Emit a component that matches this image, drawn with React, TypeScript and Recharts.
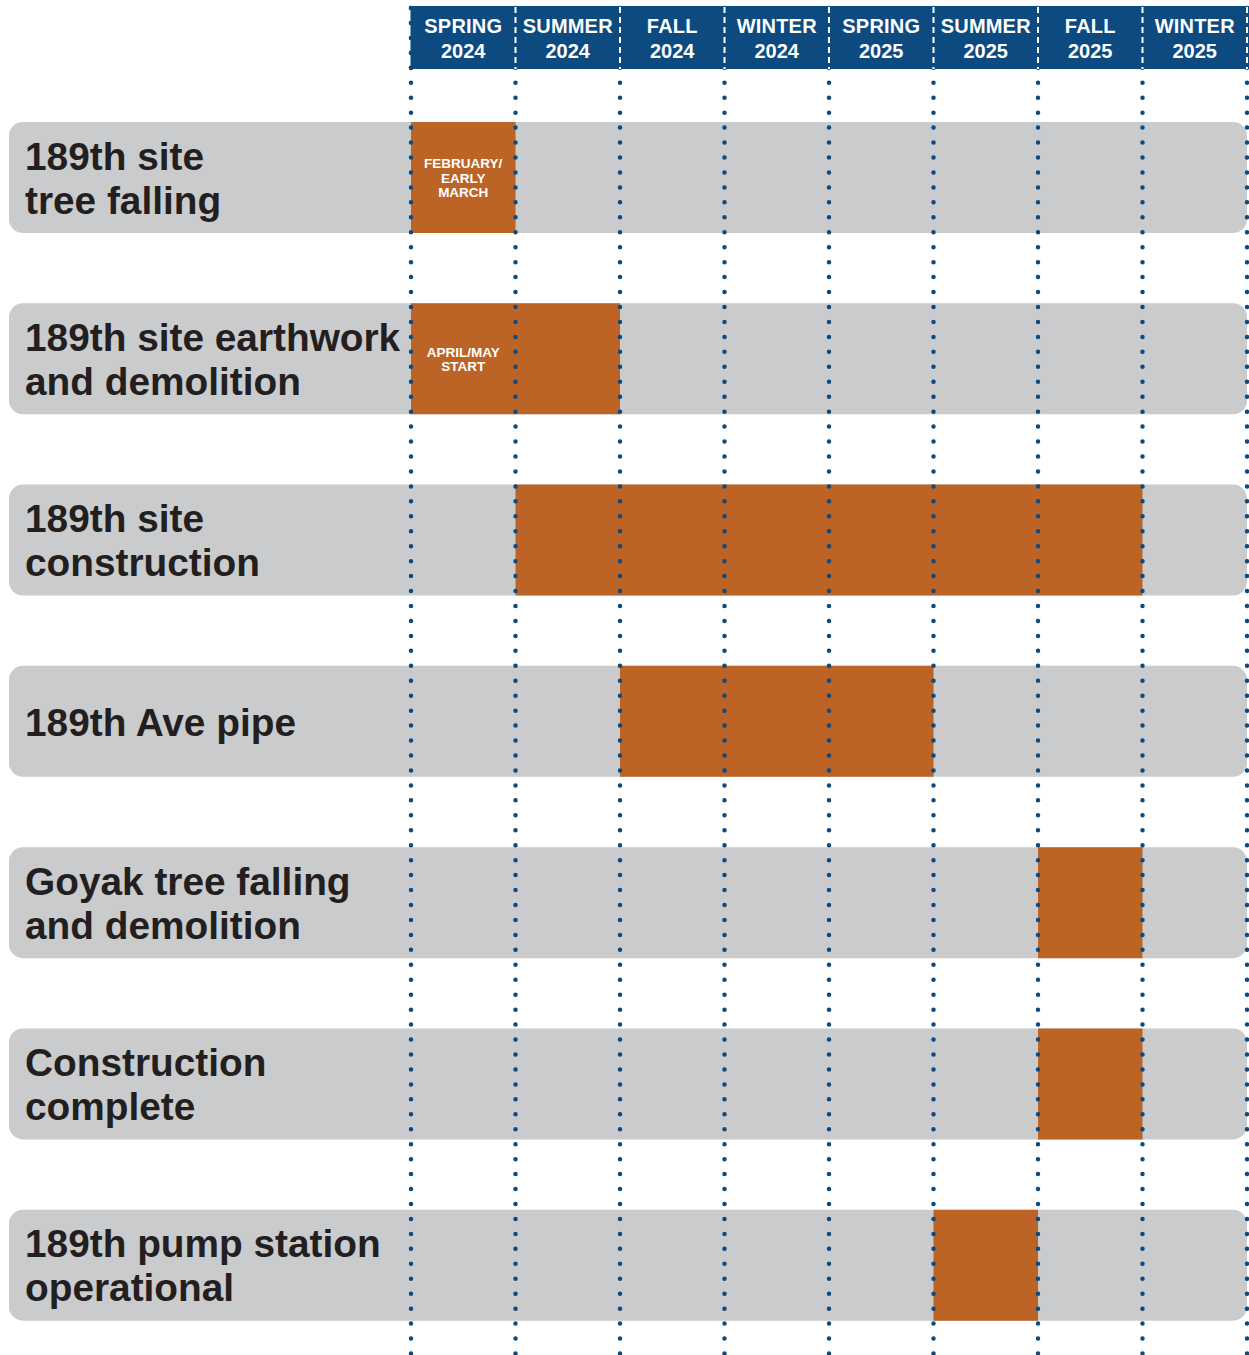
import React from 'react';
import { BarChart, Bar, XAxis, YAxis, ReferenceLine, LabelList } from 'recharts';

// ---------- data ----------
const seasons = ['SPRING', 'SUMMER', 'FALL', 'WINTER', 'SPRING', 'SUMMER', 'FALL', 'WINTER'];
const years = ['2024', '2024', '2024', '2024', '2025', '2025', '2025', '2025'];
const seasonTicks = [0.5, 1.5, 2.5, 3.5, 4.5, 5.5, 6.5, 7.5];
const boundaries = [0, 1, 2, 3, 4, 5, 6, 7, 8];

const tasks = [
  '189th site\ntree falling',
  '189th site earthwork\nand demolition',
  '189th site\nconstruction',
  '189th Ave pipe',
  'Goyak tree falling\nand demolition',
  'Construction\ncomplete',
  '189th pump station\noperational',
];
const starts = [0, 0, 1, 2, 6, 6, 5];
const ends = [1, 2, 7, 5, 7, 7, 6];
const notes = ['FEBRUARY/\nEARLY\nMARCH', 'APRIL/MAY\nSTART', '', '', '', '', ''];

const data = tasks.map((task, i) => ({ task, span: [starts[i], ends[i]], note: notes[i] }));

// ---------- style / layout ----------
const W = 1249;
const H = 1355;
const PLOT_LEFT = 411;
const PLOT_RIGHT_MARGIN = 2;
const COL_W = (W - PLOT_LEFT - PLOT_RIGHT_MARGIN) / seasons.length;
const HEADER_TOP = 6;
const HEADER_H = 63;
const BLUE = '#0c4a7f';
const ORANGE = '#bc6326';
const GREY = '#cacbcd';
const INK = '#231f20';
const FONT = '"Liberation Sans", Arial, Helvetica, sans-serif';

const HeaderTick = (p: any) => {
  const i = Math.floor(p.payload.value);
  const cx = p.x;
  const left = cx - COL_W / 2;
  const last = i === seasons.length - 1;
  return (
    <g>
      <rect x={left - 0.5} y={HEADER_TOP} width={COL_W + (last ? 3 : 1)} height={HEADER_H} fill={BLUE} />
      <text x={cx} y={HEADER_TOP + 19.5} textAnchor="middle" dominantBaseline="central" fill="#fff" fontSize={20} fontWeight={700} fontFamily={FONT} letterSpacing={0.2}>
        {seasons[i]}
      </text>
      <text x={cx} y={HEADER_TOP + 44.5} textAnchor="middle" dominantBaseline="central" fill="#fff" fontSize={20} fontWeight={700} fontFamily={FONT}>
        {years[i]}
      </text>
      {i === 0 ? (
        <line x1={left} x2={left} y1={HEADER_TOP + 2} y2={HEADER_TOP + HEADER_H} stroke={BLUE} strokeWidth={4.5} strokeDasharray="0 15" strokeLinecap="round" />
      ) : (
        <line x1={left} x2={left} y1={HEADER_TOP + 1} y2={HEADER_TOP + HEADER_H} stroke="#fff" strokeWidth={2} strokeDasharray="6 4" />
      )}
      {last && (
        <line x1={left + COL_W} x2={left + COL_W} y1={HEADER_TOP + 1} y2={HEADER_TOP + HEADER_H} stroke="#fff" strokeWidth={2} strokeDasharray="6 4" />
      )}
    </g>
  );
};

const TaskTick = (p: any) => {
  const lines = String(p.payload.value).split('\n');
  const lh = 44;
  const y0 = p.y - ((lines.length - 1) * lh) / 2;
  return (
    <text x={25} y={y0} fill={INK} fontSize={38.8} fontWeight={700} fontFamily={FONT} dominantBaseline="central">
      {lines.map((l, k) => (
        <tspan key={k} x={25} y={y0 + k * lh}>
          {l}
        </tspan>
      ))}
    </text>
  );
};

const NoteLabel = (p: any) => {
  const { x, y, width, height, value, index } = p;
  if (!value) return null;
  const row = data[index];
  const cols = row.span[1] - row.span[0];
  const cx = x + width / cols / 2;
  const lines = String(value).split('\n');
  const lh = 14.5;
  const y0 = y + height / 2 - ((lines.length - 1) * lh) / 2;
  return (
    <text x={cx} y={y0} fill="#fff" fontSize={13.5} fontWeight={700} fontFamily={FONT} textAnchor="middle" dominantBaseline="central">
      {lines.map((l, k) => (
        <tspan key={k} x={cx} y={y0 + k * lh}>
          {l}
        </tspan>
      ))}
    </text>
  );
};

const RowBackground = (p: any) => (
  <rect x={9} y={p.y} width={p.x + p.width - 9} height={p.height} rx={14} ry={14} fill={GREY} />
);

export default function App() {
  return (
    <div style={{ position: 'absolute', left: 0, top: 0, width: W, height: H, background: '#fff', overflow: 'hidden' }}>
      <BarChart
        width={W}
        height={H}
        data={data}
        layout="vertical"
        margin={{ top: HEADER_TOP - 1, right: PLOT_RIGHT_MARGIN, left: 0, bottom: -1 }}
      >
        <YAxis
          type="category"
          dataKey="task"
          width={PLOT_LEFT}
          padding={{ top: 81, bottom: 0 }}
          axisLine={false}
          tickLine={false}
          tick={<TaskTick />}
          interval={0}
        />
        <Bar dataKey="span" fill={ORANGE} barSize={111} background={RowBackground} isAnimationActive={false}>
          <LabelList dataKey="note" content={<NoteLabel />} />
        </Bar>
        {boundaries.map((b) => (
          <ReferenceLine
            key={b}
            x={b}
            stroke={BLUE}
            strokeWidth={4.5}
            strokeDasharray="0 14.95"
            strokeDashoffset={-2}
            strokeLinecap="round"
          />
        ))}
        <XAxis
          type="number"
          domain={[0, 8]}
          ticks={seasonTicks}
          orientation="top"
          height={1}
          axisLine={false}
          tickLine={false}
          tick={<HeaderTick />}
          interval={0}
        />
      </BarChart>
    </div>
  );
}
